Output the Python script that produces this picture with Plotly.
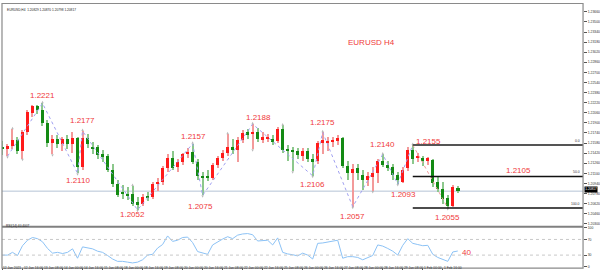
import plotly.graph_objects as go

# ---------------- data ----------------
bar_index = list(range(92))
opens = [1.2151, 1.2148, 1.2153, 1.2163, 1.2145, 1.2175, 1.2206, 1.2217, 1.2210, 1.2190,
         1.2158, 1.2165, 1.2156, 1.2165, 1.2156, 1.2166, 1.2120, 1.2166, 1.2152, 1.2151,
         1.2140, 1.2138, 1.2116, 1.2093, 1.2081, 1.2078, 1.2077, 1.2064, 1.2062, 1.2074,
         1.2073, 1.2093, 1.2097, 1.2119, 1.2135, 1.2120, 1.2128, 1.2141, 1.2144, 1.2128,
         1.2106, 1.2106, 1.2103, 1.2124, 1.2135, 1.2143, 1.2152, 1.2147, 1.2163, 1.2175,
         1.2173, 1.2176, 1.2164, 1.2165, 1.2164, 1.2162, 1.2181, 1.2148, 1.2147, 1.2145,
         1.2137, 1.2145, 1.2132, 1.2129, 1.2158, 1.2159, 1.2160, 1.2162, 1.2166, 1.2121,
         1.2111, 1.2118, 1.2108, 1.2100, 1.2104, 1.2110, 1.2130, 1.2124, 1.2120, 1.2108,
         1.2097, 1.2118, 1.2147, 1.2135, 1.2134, 1.2130, 1.2131, 1.2096, 1.2085, 1.2071,
         1.2058, 1.2086]
highs = [1.2162, 1.2156, 1.2180, 1.2167, 1.2178, 1.2210, 1.2218, 1.2219, 1.2221, 1.2194,
         1.2170, 1.2170, 1.2168, 1.2170, 1.2176, 1.2168, 1.2177, 1.2173, 1.2160, 1.2155,
         1.2147, 1.2140, 1.2125, 1.2099, 1.2092, 1.2088, 1.2090, 1.2072, 1.2078, 1.2080,
         1.2096, 1.2102, 1.2122, 1.2140, 1.2145, 1.2132, 1.2143, 1.2150, 1.2157, 1.2132,
         1.2112, 1.2115, 1.2127, 1.2138, 1.2147, 1.2172, 1.2165, 1.2167, 1.2178, 1.2180,
         1.2188, 1.2182, 1.2175, 1.2172, 1.2170, 1.2184, 1.2186, 1.2155, 1.2152, 1.2150,
         1.2150, 1.2150, 1.2140, 1.2162, 1.2175, 1.2168, 1.2168, 1.2170, 1.2168, 1.2130,
         1.2125, 1.2125, 1.2115, 1.2112, 1.2120, 1.2133, 1.2140, 1.2130, 1.2125, 1.2112,
         1.2120, 1.2152, 1.2155, 1.2143, 1.2138, 1.2136, 1.2133, 1.2105, 1.2097, 1.2076,
         1.2092, 1.2090]
lows = [1.2139, 1.2137, 1.2149, 1.2140, 1.2133, 1.2170, 1.2199, 1.2204, 1.2185, 1.2152,
        1.2140, 1.2150, 1.2146, 1.2149, 1.2142, 1.2110, 1.2115, 1.2150, 1.2140, 1.2133,
        1.2128, 1.2112, 1.2088, 1.2072, 1.2070, 1.2068, 1.2058, 1.2052, 1.2058, 1.2066,
        1.2070, 1.2082, 1.2092, 1.2112, 1.2115, 1.2112, 1.2123, 1.2135, 1.2125, 1.2100,
        1.2075, 1.2098, 1.2099, 1.2118, 1.2130, 1.2138, 1.2140, 1.2128, 1.2158, 1.2165,
        1.2148, 1.2160, 1.2158, 1.2160, 1.2155, 1.2158, 1.2143, 1.2130, 1.2113, 1.2133,
        1.2130, 1.2128, 1.2106, 1.2125, 1.2140, 1.2145, 1.2152, 1.2155, 1.2118, 1.2100,
        1.2057, 1.2100, 1.2084, 1.2090, 1.2082, 1.2095, 1.2120, 1.2113, 1.2100, 1.2093,
        1.2095, 1.2114, 1.2125, 1.2128, 1.2122, 1.2124, 1.2088, 1.2080, 1.2062, 1.2055,
        1.2056, 1.2079]
closes = [1.2149, 1.2154, 1.2163, 1.2146, 1.2175, 1.2207, 1.2216, 1.2210, 1.2190, 1.2158,
          1.2164, 1.2157, 1.2165, 1.2156, 1.2166, 1.2120, 1.2166, 1.2156, 1.2150, 1.2139,
          1.2137, 1.2116, 1.2093, 1.2076, 1.2078, 1.2075, 1.2062, 1.2060, 1.2073, 1.2072,
          1.2093, 1.2097, 1.2119, 1.2135, 1.2119, 1.2128, 1.2140, 1.2144, 1.2128, 1.2105,
          1.2103, 1.2103, 1.2124, 1.2135, 1.2143, 1.2152, 1.2147, 1.2163, 1.2174, 1.2172,
          1.2176, 1.2165, 1.2167, 1.2168, 1.2161, 1.2181, 1.2147, 1.2146, 1.2145, 1.2139,
          1.2145, 1.2132, 1.2129, 1.2158, 1.2163, 1.2162, 1.2163, 1.2166, 1.2121, 1.2111,
          1.2117, 1.2111, 1.2100, 1.2105, 1.2111, 1.2129, 1.2124, 1.2119, 1.2108, 1.2100,
          1.2116, 1.2147, 1.2132, 1.2138, 1.2130, 1.2134, 1.2095, 1.2085, 1.2069, 1.2058,
          1.2089, 1.20817]
rsi_values = [30, 30, 37, 29, 54, 68, 75, 72, 64, 47,
              35, 37, 34, 37, 46, 22, 51, 48, 46, 40,
              37, 29, 20, 14, 14, 12, 10, 12, 18, 30,
              32, 48, 57, 79, 65, 68, 75, 76, 62, 39,
              35, 32, 56, 64, 71, 77, 72, 81, 84, 85,
              82, 66, 67, 68, 56, 74, 37, 33, 31, 28,
              35, 30, 20, 60, 61, 63, 66, 68, 22, 26,
              26, 24, 18, 24, 29, 56, 53, 47, 40, 30,
              55, 72, 60, 57, 54, 55, 32, 24, 18, 14,
              38, 40.4007]

zigzag_bars = [1, 8, 15, 16, 27, 38, 40, 50, 62, 64, 70, 76, 79, 82, 89]
zigzag_prices = [1.2137, 1.2221, 1.2110, 1.2177, 1.2052, 1.2157, 1.2075, 1.2188,
                 1.2106, 1.2175, 1.2057, 1.2140, 1.2093, 1.2155, 1.2055]

up_fractal_bars = [2, 8, 16, 26, 38, 45, 50, 56, 64, 76, 82]
down_fractal_bars = [1, 4, 10, 15, 27, 40, 50, 58, 62, 70, 74, 79, 89]

fib_start_bar = 82
fib_levels = [1.2155, 1.2105, 1.2055]
fib_names = ["0.0", "50.0", "100.0"]

bid_price = 1.20817
header_text = "EURUSD,H4  1.20829 1.20870 1.20798 1.20817"
rsi_header = "RSI(14) 40.4007"
title_text = "EURUSD H4"

price_ticks = [round(1.2030 + 0.0016 * k, 4) for k in range(22)]
rsi_ticks = [0, 30, 70, 100]

time_label_bars = list(range(0, 89, 4))
time_labels = ["12 Jan 2021", "12 Jan 16:00", "13 Jan 08:00", "14 Jan 00:00", "14 Jan 16:00",
               "15 Jan 08:00", "18 Jan 00:00", "18 Jan 16:00", "19 Jan 08:00", "20 Jan 00:00",
               "20 Jan 16:00", "21 Jan 08:00", "22 Jan 00:00", "22 Jan 16:00", "25 Jan 08:00",
               "26 Jan 00:00", "26 Jan 16:00", "27 Jan 08:00", "28 Jan 00:00", "28 Jan 16:00",
               "29 Jan 08:00", "1 Feb 00:00", "1 Feb 16:00"]

# ---------------- geometry / style ----------------
W, H = 600, 278
PX_PER_BAR = 5.02
BAR0_PX = 2.5
PLOT_L, PLOT_R = 2, 585
MAIN_TOP, MAIN_BOT = 2, 228
RSI_TOP_PX, RSI_BOT_PX = 229, 268.7
PX_PER_PRICE = 6400.0
REF_PRICE, REF_PX = 1.2155, 145.0

x_min = (PLOT_L - BAR0_PX) / PX_PER_BAR
x_max = (PLOT_R - BAR0_PX) / PX_PER_BAR
p_top = REF_PRICE + (REF_PX - MAIN_TOP) / PX_PER_PRICE
p_bot = REF_PRICE - (MAIN_BOT - REF_PX) / PX_PER_PRICE

def py(px):
    return (H - px) / H

FONT = "Arial, Liberation Sans, sans-serif"
RED_TXT = "#f03a3a"
UP_BODY, DN_BODY = "#ff1a1a", "#138a13"
UP_WICK, DN_WICK = "#f39a9a", "#8cc88c"
SMALL = 3.4

is_up = [c >= o for o, c in zip(opens, closes)]

fig = go.Figure()

# wicks
fig.add_trace(go.Bar(
    x=bar_index, y=[h - l for h, l in zip(highs, lows)], base=lows,
    width=0.22, marker=dict(color=[UP_WICK if u else DN_WICK for u in is_up], line=dict(width=0)),
    xaxis="x", yaxis="y", hoverinfo="skip", showlegend=False))
# bodies
fig.add_trace(go.Bar(
    x=bar_index, y=[max(abs(c - o), 0.00012) for o, c in zip(opens, closes)],
    base=[min(o, c) for o, c in zip(opens, closes)],
    width=0.68, marker=dict(color=[UP_BODY if u else DN_BODY for u in is_up], line=dict(width=0)),
    xaxis="x", yaxis="y", hoverinfo="skip", showlegend=False))

# zigzag
fig.add_trace(go.Scatter(x=zigzag_bars[:-1], y=zigzag_prices[:-1], mode="lines",
                         line=dict(color="#a0a0f0", width=1, dash="dot"),
                         xaxis="x", yaxis="y", showlegend=False, hoverinfo="skip"))
fig.add_trace(go.Scatter(x=zigzag_bars[-2:], y=zigzag_prices[-2:], mode="lines",
                         line=dict(color="#f09a9a", width=1, dash="dot"),
                         xaxis="x", yaxis="y", showlegend=False, hoverinfo="skip"))

# fractals
off = 2.5 / PX_PER_PRICE
fig.add_trace(go.Scatter(x=up_fractal_bars, y=[highs[b] + off for b in up_fractal_bars],
                         mode="markers", marker=dict(symbol="arrow-up", size=2.5, color="#b8b8b8",
                                                     line=dict(width=0)),
                         xaxis="x", yaxis="y", showlegend=False, hoverinfo="skip"))
fig.add_trace(go.Scatter(x=down_fractal_bars, y=[lows[b] - off for b in down_fractal_bars],
                         mode="markers", marker=dict(symbol="arrow-down", size=2.5, color="#b8b8b8",
                                                     line=dict(width=0)),
                         xaxis="x", yaxis="y", showlegend=False, hoverinfo="skip"))

# RSI
fig.add_trace(go.Scatter(x=bar_index, y=rsi_values, mode="lines",
                         line=dict(color="#8cc2f5", width=1),
                         xaxis="x2", yaxis="y2", showlegend=False, hoverinfo="skip"))

shapes = []
shapes.append(dict(type="line", xref="x", yref="y", x0=x_min, x1=x_max, y0=bid_price, y1=bid_price,
                   line=dict(color="#b4c3d6", width=1), layer="below"))
for lvl, col, w in zip(fib_levels, ["#555555", "#111111", "#111111"], [2, 1.5, 1.5]):
    shapes.append(dict(type="line", xref="x", yref="y", x0=fib_start_bar, x1=x_max, y0=lvl, y1=lvl,
                       line=dict(color=col, width=w)))
for lvl in [30, 70]:
    shapes.append(dict(type="line", xref="x2", yref="y2", x0=x_min, x1=x_max, y0=lvl, y1=lvl,
                       line=dict(color="#c8c8c8", width=1, dash="dot")))
shapes.append(dict(type="rect", xref="paper", yref="paper", x0=PLOT_L / W, x1=PLOT_R / W,
                   y0=py(270), y1=py(1.5), line=dict(color="#8a8a8a", width=1.2)))
shapes.append(dict(type="line", xref="paper", yref="paper", x0=PLOT_L / W, x1=PLOT_R / W,
                   y0=py(228), y1=py(228), line=dict(color="#808080", width=2)))

annotations = []
label_offsets = [(0, 8), (0, -7), (0, 11), (-5, -5), (1, 7), (-2, -11), (6, 7),
                 (0, -9), (0, 10), (0, -10), (0, 10), (6, -10), (16, 3), (0, -10)]
for b, p, (dx, dy) in zip(zigzag_bars[1:], zigzag_prices[1:], label_offsets):
    annotations.append(dict(x=b, y=p, xref="x", yref="y", text=f"{p:.4f}", showarrow=False,
                            xshift=dx, yshift=dy, font=dict(family=FONT, size=8, color=RED_TXT)))
annotations.append(dict(x=103.2, y=fib_levels[1], xref="x", yref="y", text=f"{fib_levels[1]:.4f}",
                        showarrow=False, yshift=6, font=dict(family=FONT, size=8, color=RED_TXT)))
for lvl, name in zip(fib_levels, fib_names):
    annotations.append(dict(x=PLOT_R / W - 0.002, y=lvl, xref="paper", yref="y", text=name,
                            showarrow=False, xanchor="right", yanchor="bottom",
                            font=dict(family=FONT, size=SMALL, color="#333333")))
annotations.append(dict(x=373 / W, y=py(35), xref="paper", yref="paper", text=title_text,
                        showarrow=False, font=dict(family=FONT, size=8, color=RED_TXT)))
annotations.append(dict(x=bar_index[-1], y=rsi_values[-1], xref="x2", yref="y2",
                        text=f"{int(rsi_values[-1])}", showarrow=False, xshift=9, yshift=-1,
                        xanchor="center", font=dict(family=FONT, size=8, color=RED_TXT)))
annotations.append(dict(x=5 / W, y=py(4.5), xref="paper", yref="paper", text=header_text,
                        showarrow=False, xanchor="left", font=dict(family=FONT, size=3.2, color="#222222")))
annotations.append(dict(x=4 / W, y=py(231.5), xref="paper", yref="paper", text=rsi_header,
                        showarrow=False, xanchor="left", font=dict(family=FONT, size=3.2, color="#222222")))
annotations.append(dict(x=586 / W, y=bid_price, xref="paper", yref="y", text=f"{bid_price:.5f}",
                        showarrow=False, xanchor="left", yshift=1.5, bgcolor="#000000", borderpad=0.3,
                        font=dict(family=FONT, size=3.2, color="#ffffff")))
for b, t in zip(time_label_bars, time_labels):
    annotations.append(dict(x=b, y=py(273.5), xref="x2", yref="paper", text=t, showarrow=False,
                            xanchor="left", xshift=-1, font=dict(family=FONT, size=3.3, color="#333333")))

fig.update_layout(
    width=W, height=H, margin=dict(l=0, r=0, t=0, b=0),
    paper_bgcolor="white", plot_bgcolor="white",
    barmode="overlay", bargap=0, showlegend=False,
    xaxis=dict(domain=[PLOT_L / W, PLOT_R / W], range=[x_min, x_max], anchor="y",
               showgrid=False, zeroline=False, showticklabels=False, ticks="", showline=False),
    yaxis=dict(domain=[py(MAIN_BOT), py(MAIN_TOP)], range=[p_bot, p_top], anchor="x", side="right",
               showgrid=False, zeroline=False, tickvals=price_ticks,
               ticktext=[f"{v:.5f}" for v in price_ticks], ticks="outside", ticklen=3,
               tickcolor="#555555", tickfont=dict(family=FONT, size=SMALL, color="#333333"), showline=False),
    xaxis2=dict(domain=[PLOT_L / W, PLOT_R / W], range=[x_min, x_max], anchor="y2",
                showgrid=False, zeroline=False, showticklabels=False, tickvals=time_label_bars,
                ticks="outside", ticklen=2, tickcolor="#555555", showline=False),
    yaxis2=dict(domain=[py(RSI_BOT_PX), py(RSI_TOP_PX)], range=[0, 100], anchor="x2", side="right",
                showgrid=False, zeroline=False, tickvals=rsi_ticks, ticks="outside", ticklen=3,
                tickcolor="#555555", tickfont=dict(family=FONT, size=SMALL, color="#333333"), showline=False),
    shapes=shapes, annotations=annotations,
)

fig.write_html("out.html")
